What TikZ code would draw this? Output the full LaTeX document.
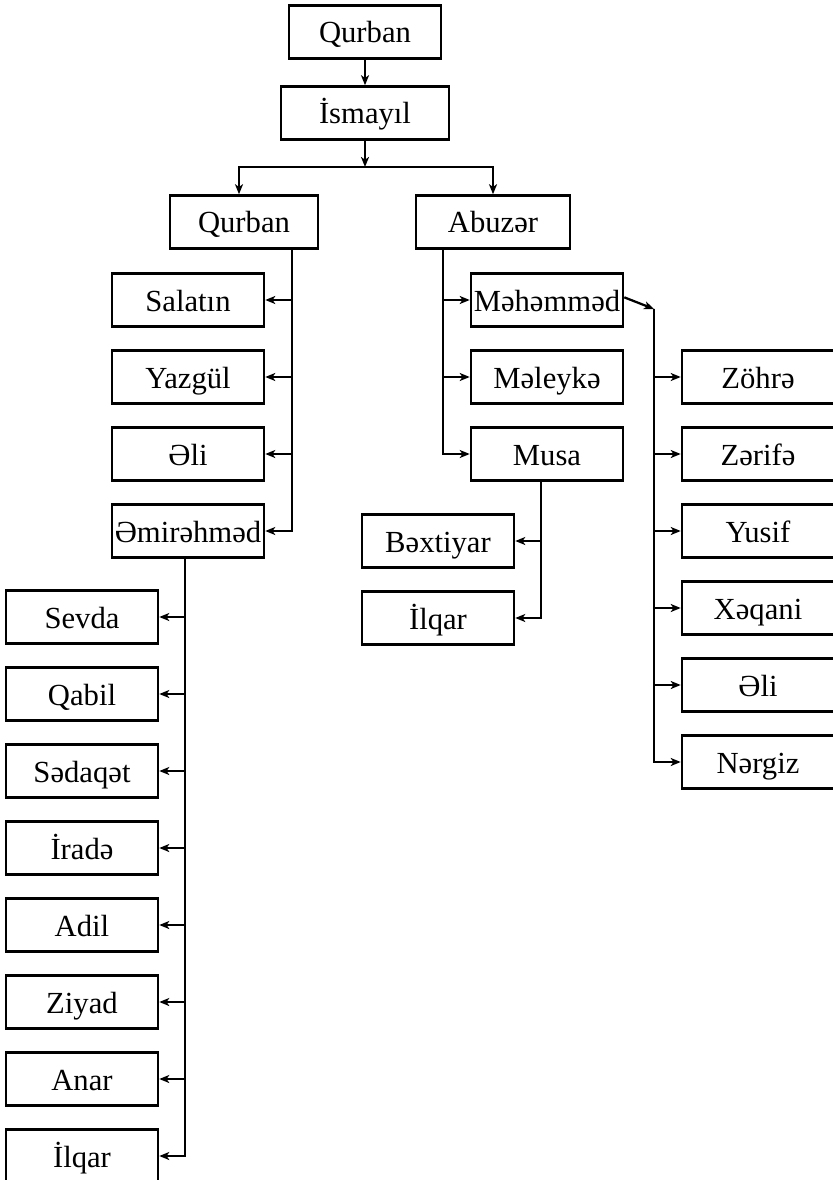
\documentclass[tikz,border=0pt]{standalone}
\usepackage{fontspec}
\setmainfont{Liberation Serif}
\usetikzlibrary{arrows.meta}

\begin{document}
\begin{tikzpicture}[x=0.75pt,y=-0.75pt,>={Stealth[length=7.5pt,width=6pt,inset=2pt]},
  box/.style={draw,line width=1.9pt,minimum width=114pt,minimum height=39.75pt,inner sep=0pt,
    text height=20pt,text depth=3.5pt,font=\fontsize{23}{25}\selectfont},
  link/.style={line width=1.7pt}]
\useasboundingbox (0,0) rectangle (832,1180);
% top of the tree
\node[box] (qurban) at (365,32) {Qurban};
\node[box,minimum width=126pt] (ismayil) at (365,113) {İsmayıl};
\node[box,minimum width=111pt] (qurban2) at (244,222) {Qurban};
\node[box,minimum width=115.5pt] (abuzer) at (493,222) {Abuzər};
\coordinate (split) at (365,167);
\draw[link,->] (qurban) -- (ismayil);
\draw[link,->] (ismayil) -- (split);
\draw[link,->] (split) -| ([xshift=-3.75pt]qurban2.north);
\draw[link,->] (split) -| (abuzer.north);
% children of Qurban
\foreach \t [count=\i] in {Salatın,Yazgül,Əli,Əmirəhməd}
  \node[box] (q\i) at (188,223+77*\i) {\t};
\coordinate (qtrunk) at (292,248);
\foreach \i in {1,...,4} \draw[link,->] (qtrunk) |- (q\i.east);
% children of Abuzer
\foreach \t [count=\i] in {Məhəmməd,Məleykə,Musa}
  \node[box] (a\i) at (547,223+77*\i) {\t};
\coordinate (atrunk) at (443,248);
\foreach \i in {1,...,3} \draw[link,->] (atrunk) |- (a\i.west);
% children of Musa
\node[box] (bextiyar) at (438,541) {Bəxtiyar};
\node[box] (ilqar) at (438,618) {İlqar};
\coordinate (mtrunk) at (541,481);
\draw[link,->] (mtrunk) |- (bextiyar.east);
\draw[link,->] (mtrunk) |- (ilqar.east);
% children of Mehemmed
\foreach \t [count=\i] in {Zöhrə,Zərifə,Yusif,Xəqani,Əli,Nərgiz}
  \node[box] (r\i) at (758,300+77*\i) {\t};
\coordinate (fork) at (654,309);
\draw[link,->] ([yshift=2pt]a1.east) -- (fork);
\foreach \i in {1,...,6} \draw[link,->] (fork) |- (r\i.west);
% children of Emirehmed
\foreach \t [count=\i] in {Sevda,Qabil,Sədaqət,İradə,Adil,Ziyad,Anar,İlqar}
  \node[box] (l\i) at (82,540+77*\i) {\t};
\coordinate (etrunk) at (185,558);
\foreach \i in {1,...,8} \draw[link,->] (etrunk) |- (l\i.east);
\end{tikzpicture}
\end{document}
